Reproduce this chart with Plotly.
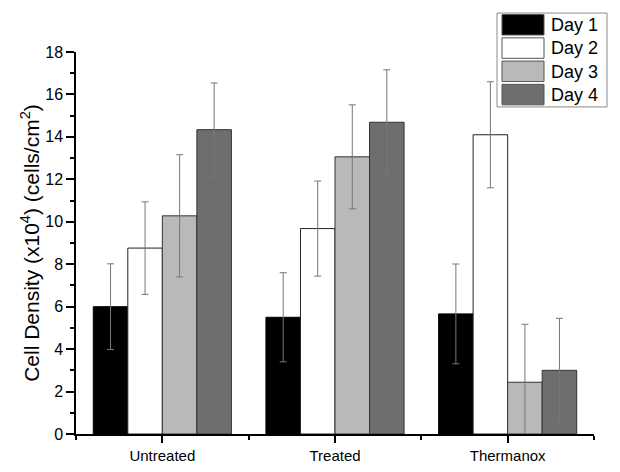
import plotly.graph_objects as go

categories = ["Untreated", "Treated", "Thermanox"]
series_names = ["Day 1", "Day 2", "Day 3", "Day 4"]
day1 = [6.0, 5.5, 5.66]
day2 = [8.76, 9.68, 14.1]
day3 = [10.28, 13.06, 2.44]
day4 = [14.34, 14.69, 3.0]
err1 = [2.02, 2.1, 2.35]
err2 = [2.18, 2.24, 2.5]
err3 = [2.88, 2.45, 2.73]
err4 = [2.2, 2.47, 2.45]
y_ticks = [0, 2, 4, 6, 8, 10, 12, 14, 16, 18]

values = [day1, day2, day3, day4]
errors = [err1, err2, err3, err4]
fills = ["#000000", "#ffffff", "#b9b9b9", "#6e6e6e"]
outlines = ["#000000", "#222222", "#333333", "#333333"]

FONT = "Arial, Liberation Sans, sans-serif"
xpos = list(range(len(categories)))

fig = go.Figure()
for name, v, e, fc, lc in zip(series_names, values, errors, fills, outlines):
    fig.add_trace(go.Bar(
        x=xpos, y=v, name=name,
        marker=dict(color=fc, line=dict(color=lc, width=1)),
        error_y=dict(type="data", array=e, visible=True, color="#777777",
                     thickness=1, width=3.5),
        showlegend=False,
    ))

# the page body has an 8px default margin; compensate so the plot lands in place
OFF = 8
W, H = 620, 472
pl, pt = 76, 52          # plot-area top-left in page pixels
pw, ph = 518, 382.5      # plot-area size
ml, mt = pl - OFF, pt - OFF
mr, mb = W - ml - pw, H - mt - ph

def px_to_paper(x, y):
    return (x - pl) / pw, 1 - (y - pt) / ph

# custom legend (large swatches like the original)
x0, y0 = px_to_paper(497, 13)
x1, y1 = px_to_paper(607, 107)
fig.add_shape(type="rect", xref="paper", yref="paper", x0=x0, y0=y1, x1=x1, y1=y0,
              line=dict(color="#8a8a8a", width=1), fillcolor="white", layer="above")
for i, (name, fc) in enumerate(zip(series_names, fills)):
    top = 14.5 + i * 23.3
    sx0, sy0 = px_to_paper(502, top)
    sx1, sy1 = px_to_paper(544, top + 20.5)
    fig.add_shape(type="rect", xref="paper", yref="paper", x0=sx0, y0=sy1, x1=sx1, y1=sy0,
                  line=dict(color="#555555", width=1), fillcolor=fc, layer="above")
    tx, ty = px_to_paper(549, top + 10.5)
    fig.add_annotation(xref="paper", yref="paper", x=tx, y=ty, text=name,
                       showarrow=False, xanchor="left", yanchor="middle",
                       font=dict(family=FONT, size=18, color="black"))

fig.update_layout(
    width=W, height=H,
    margin=dict(l=ml, r=mr, t=mt, b=mb, autoexpand=False),
    paper_bgcolor="white", plot_bgcolor="white",
    barmode="group", bargap=0.2, bargroupgap=0,
    font=dict(family=FONT, color="black"),
)
fig.update_xaxes(
    range=[-0.5, 2.5], tickvals=xpos, ticktext=categories,
    showline=True, linecolor="black", linewidth=1.5,
    ticks="outside", ticklen=7, tickcolor="black", tickwidth=1.5,
    minor=dict(dtick=0.5, tick0=0.5, ticks="outside", ticklen=4, tickcolor="black", tickwidth=1.5),
    showgrid=False, zeroline=False, tickfont=dict(size=15), automargin=False,
)
fig.update_yaxes(
    range=[0, 18], tickvals=y_ticks,
    showline=True, linecolor="black", linewidth=1.5,
    ticks="outside", ticklen=8, tickcolor="black", tickwidth=1.5,
    minor=dict(dtick=1, ticks="outside", ticklen=4, tickcolor="black", tickwidth=1.5),
    showgrid=False, zeroline=False, tickfont=dict(size=16), automargin=False,
    title=dict(text="Cell Density (x10<sup>4</sup>) (cells/cm<sup>2</sup>)",
               font=dict(size=21), standoff=0),
)

fig.write_html("out.html")
